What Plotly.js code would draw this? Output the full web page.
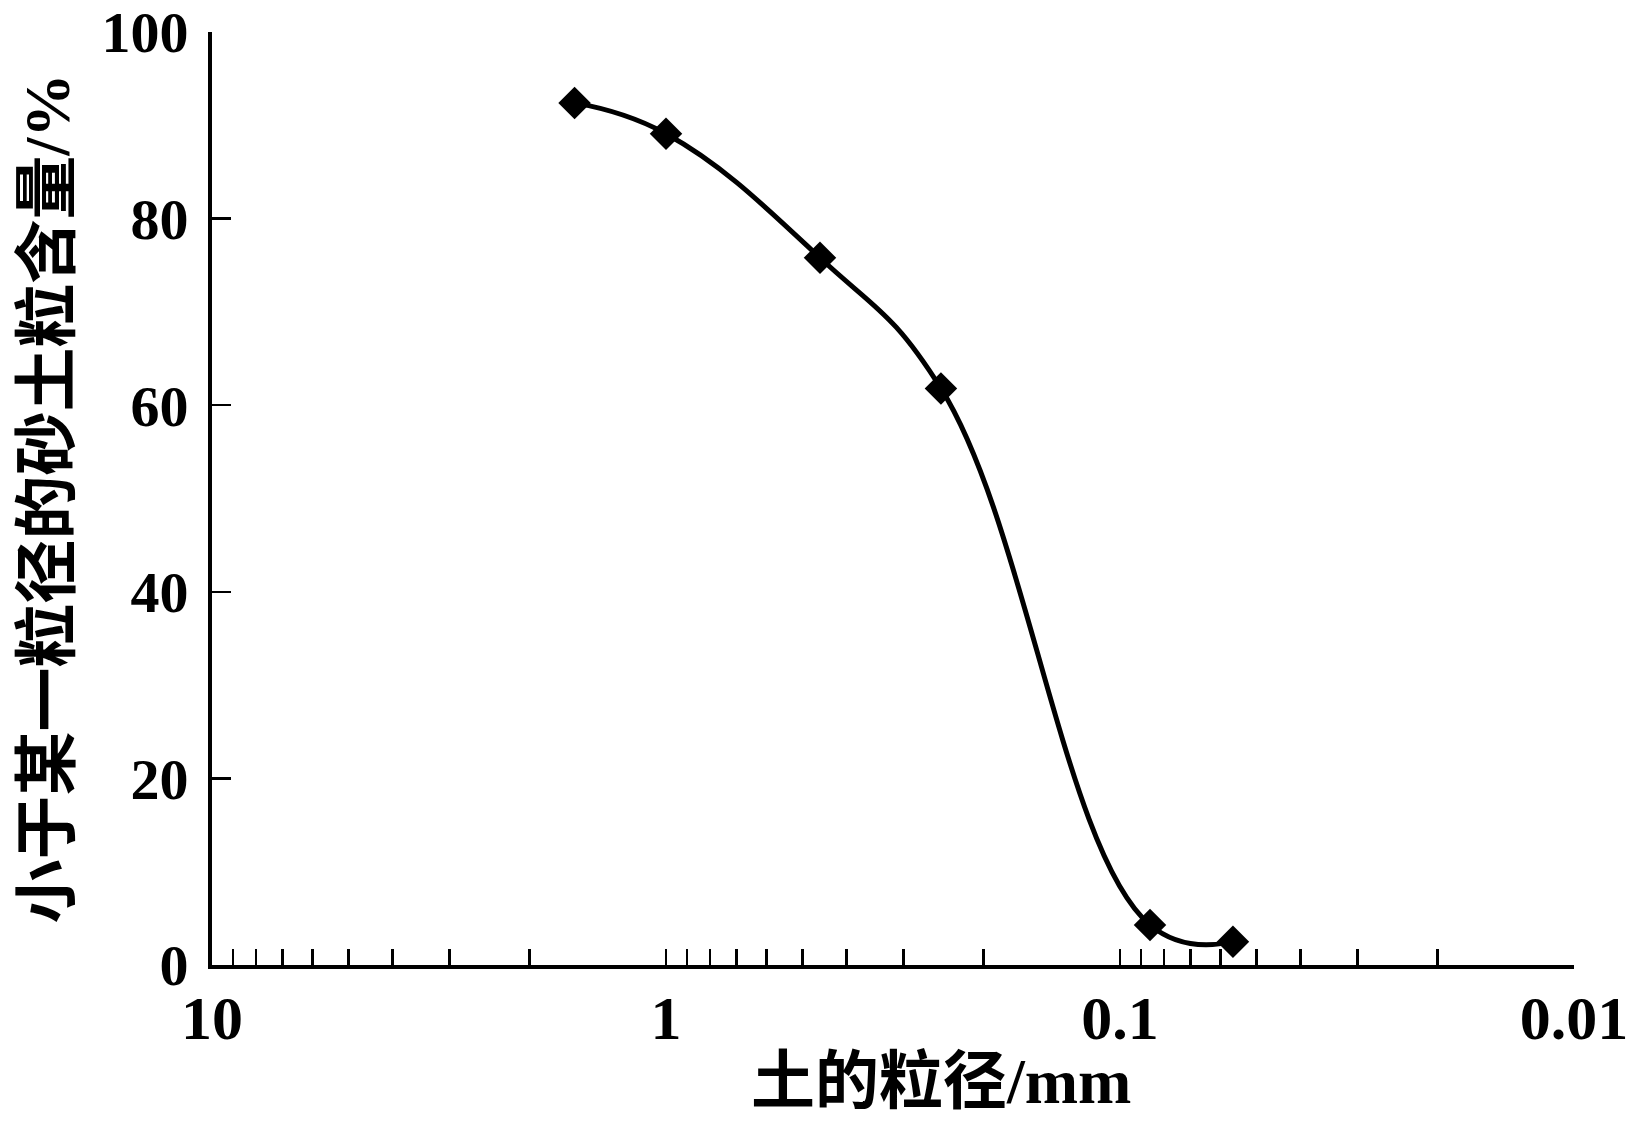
<!DOCTYPE html>
<html>
<head>
<meta charset="utf-8">
<script src="https://cdn.plot.ly/plotly-3.0.1.min.js"></script>
<style>
html,body{margin:0;padding:0;background:#fff;}
#chart{width:1643px;height:1122px;}
</style>
</head>
<body>
<div id="chart"></div>
<script>
// Particle size (mm) and cumulative percentage passing (%)
const particleSize = [1.59, 1.0, 0.458, 0.248, 0.0859, 0.0564];
const percentFiner = [92.4, 89.1, 75.8, 61.8, 4.3, 2.5];
const xTickVals = [10, 1, 0.1, 0.01];
const xTickText = ['10', '1', '0.1', '0.01'];
const yTickVals = [0, 20, 40, 60, 80, 100];
const xTitle = '土的粒径/mm';
const yTitle = '小于某一粒径的砂土粒含量/%';

const FONT = '"Liberation Serif", "Times New Roman", "Noto Sans CJK SC", serif';

const trace = {
  x: particleSize,
  y: percentFiner,
  type: 'scatter',
  mode: 'lines+markers',
  line: {color: '#000', width: 5, shape: 'spline', smoothing: 1.2},
  marker: {symbol: 'diamond', size: 25, color: '#000'},
  cliponaxis: false,
  showlegend: false
};

const layout = {
  width: 1643,
  height: 1122,
  margin: {l: 212, r: 69, t: 32, b: 157},
  paper_bgcolor: '#fff',
  plot_bgcolor: '#fff',
  font: {family: FONT, color: '#000', size: 60, weight: 'bold'},
  xaxis: {
    type: 'log',
    range: [Math.log10(10), Math.log10(0.01)],
    tickmode: 'array',
    tickvals: xTickVals,
    ticktext: xTickText,
    ticks: 'inside',
    ticklen: 16,
    tickwidth: 2.5,
    tickcolor: '#000',
    minor: {dtick: 'D1', ticks: 'inside', ticklen: 16, tickwidth: 2.5, tickcolor: '#000'},
    showline: true,
    linewidth: 4,
    linecolor: '#000',
    showgrid: false,
    zeroline: false,
    ticklabeloverflow: 'allow',
    ticklabelstandoff: -4,
    tickfont: {family: FONT, size: 62, weight: 'bold', color: '#000'}
  },
  yaxis: {
    range: [0, 100],
    tickmode: 'array',
    tickvals: yTickVals,
    ticks: 'inside',
    ticklen: 19,
    tickwidth: 2.5,
    tickcolor: '#000',
    showline: true,
    linewidth: 4,
    linecolor: '#000',
    showgrid: false,
    zeroline: false,
    ticklabeloverflow: 'allow',
    ticklabelstandoff: 8,
    tickfont: {family: FONT, size: 58, weight: 'bold', color: '#000'},
    title: {text: yTitle, font: {family: FONT, size: 64, weight: 'bold', color: '#000'}, standoff: 12}
  },
  annotations: [{
    text: xTitle,
    xref: 'paper', yref: 'paper',
    x: 0.535, y: 0, yshift: -116,
    xanchor: 'center', yanchor: 'middle',
    showarrow: false,
    font: {family: FONT, size: 64, weight: 'bold', color: '#000'}
  }]
};

Plotly.newPlot('chart', [trace], layout, {displayModeBar: false, staticPlot: true});
</script>
</body>
</html>
